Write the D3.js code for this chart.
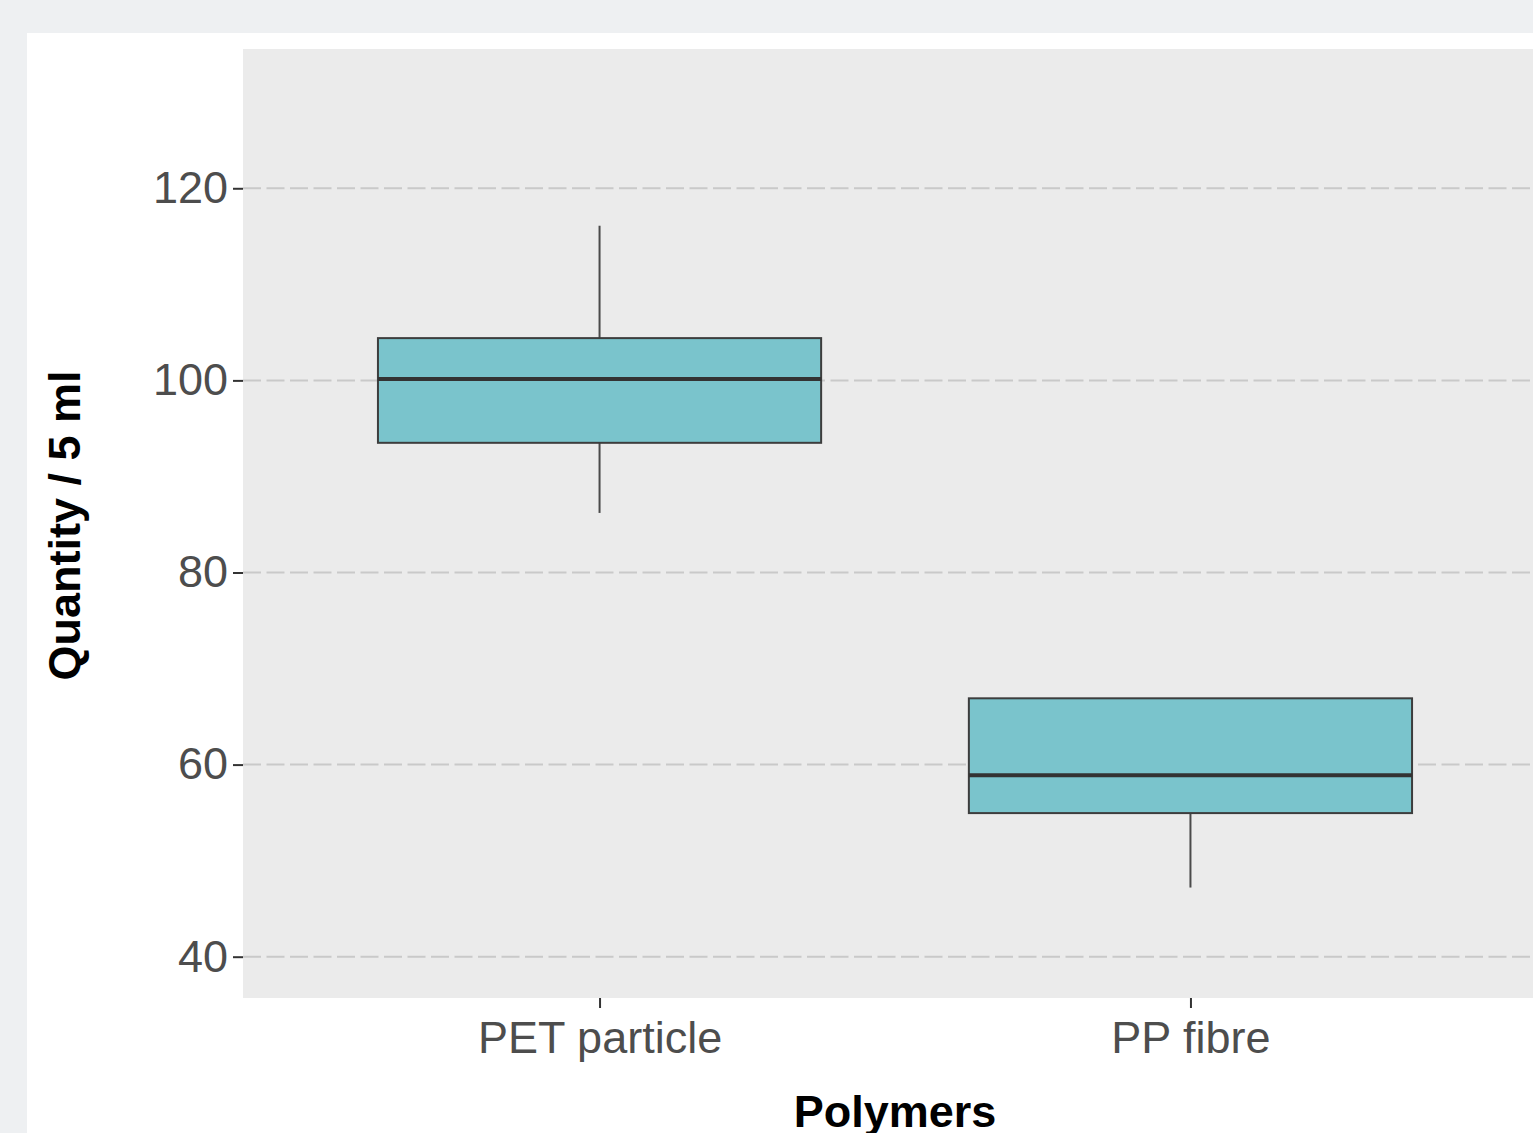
<!DOCTYPE html>
<html>
<head>
<meta charset="utf-8">
<script src="https://cdn.jsdelivr.net/npm/d3@7"></script>
<style>
  html, body { margin: 0; padding: 0; background: #eef0f2; overflow: hidden; }
  svg { display: block; }
</style>
</head>
<body>
<svg id="chart" width="1533" height="1133"></svg>
<script>
// Box-plot summaries per polymer type
const categories = ["PET particle", "PP fibre"];
const whiskerLow  = [86.2, 47.2];
const q1          = [93.5, 54.95];
const median      = [100.15, 58.9];
const q3          = [104.4, 66.9];
const whiskerHigh = [116.1, 66.9];
const yTicks = [40, 60, 80, 100, 120];

const svg = d3.select("#chart");
const W = 1533, H = 1133;
const FONT = "'Liberation Sans', Arial, sans-serif";

// White card behind the plot
svg.append("rect").attr("x", 27).attr("y", 33).attr("width", W).attr("height", H)
  .attr("fill", "#ffffff");

const panel = { left: 243, top: 49, right: 1546, bottom: 998 };

const x = d3.scalePoint().domain(categories)
  .range([245, 1545]).padding(0.6);
const y = d3.scaleLinear().domain([35.7, 134.5])
  .range([panel.bottom, panel.top]);

const boxW = x.step() * 0.75;

// Panel background
svg.append("rect")
  .attr("x", panel.left).attr("y", panel.top)
  .attr("width", panel.right - panel.left).attr("height", panel.bottom - panel.top)
  .attr("fill", "#ebebeb");

// Horizontal dashed grid lines
svg.append("g").selectAll("line").data(yTicks).join("line")
  .attr("x1", panel.left).attr("x2", panel.right)
  .attr("y1", d => y(d)).attr("y2", d => y(d))
  .attr("stroke", "#c9c9c9").attr("stroke-width", 2)
  .attr("stroke-dasharray", "18,5.5");

// Y axis
const yAxis = d3.axisLeft(y).tickValues(yTicks).tickSize(10).tickPadding(5);
const gy = svg.append("g").attr("transform", `translate(${panel.left},0)`).call(yAxis);
gy.select(".domain").remove();
gy.selectAll(".tick line").attr("stroke", "#333333").attr("stroke-width", 2);
gy.selectAll(".tick text")
  .attr("fill", "#4d4d4d")
  .style("font-family", FONT)
  .style("font-size", "45px");

// X axis
const xAxis = d3.axisBottom(x).tickSize(10).tickPadding(13);
const gx = svg.append("g").attr("transform", `translate(0,${panel.bottom})`).call(xAxis);
gx.select(".domain").remove();
gx.selectAll(".tick line").attr("stroke", "#333333").attr("stroke-width", 2);
gx.selectAll(".tick text")
  .attr("fill", "#4d4d4d")
  .style("font-family", FONT)
  .style("font-size", "45px");

// Boxes
const data = categories.map((c, i) => ({
  c, lo: whiskerLow[i], q1: q1[i], med: median[i], q3: q3[i], hi: whiskerHigh[i]
}));

const boxes = svg.append("g").selectAll("g").data(data).join("g");

boxes.append("line")
  .attr("x1", d => x(d.c)).attr("x2", d => x(d.c))
  .attr("y1", d => y(d.q3)).attr("y2", d => y(d.hi))
  .attr("stroke", "#4a4a4a").attr("stroke-width", 2);
boxes.append("line")
  .attr("x1", d => x(d.c)).attr("x2", d => x(d.c))
  .attr("y1", d => y(d.q1)).attr("y2", d => y(d.lo))
  .attr("stroke", "#4a4a4a").attr("stroke-width", 2);

boxes.append("rect")
  .attr("x", d => x(d.c) - boxW / 2).attr("width", boxW)
  .attr("y", d => y(d.q3)).attr("height", d => y(d.q1) - y(d.q3))
  .attr("fill", "#7ac4cc").attr("stroke", "#3d3d3d").attr("stroke-width", 2);

boxes.append("line")
  .attr("x1", d => x(d.c) - boxW / 2).attr("x2", d => x(d.c) + boxW / 2)
  .attr("y1", d => y(d.med)).attr("y2", d => y(d.med))
  .attr("stroke", "#333333").attr("stroke-width", 4);

// Axis titles
svg.append("text")
  .attr("x", 895).attr("y", 1127)
  .attr("text-anchor", "middle")
  .style("font-family", FONT)
  .style("font-size", "45px").style("font-weight", "bold")
  .attr("fill", "#000000")
  .text("Polymers");

svg.append("text")
  .attr("transform", `translate(80,${(panel.top + panel.bottom) / 2 + 2}) rotate(-90)`)
  .attr("text-anchor", "middle")
  .style("font-family", FONT)
  .style("font-size", "45px").style("font-weight", "bold")
  .attr("fill", "#000000")
  .text("Quantity / 5 ml");
</script>
</body>
</html>
